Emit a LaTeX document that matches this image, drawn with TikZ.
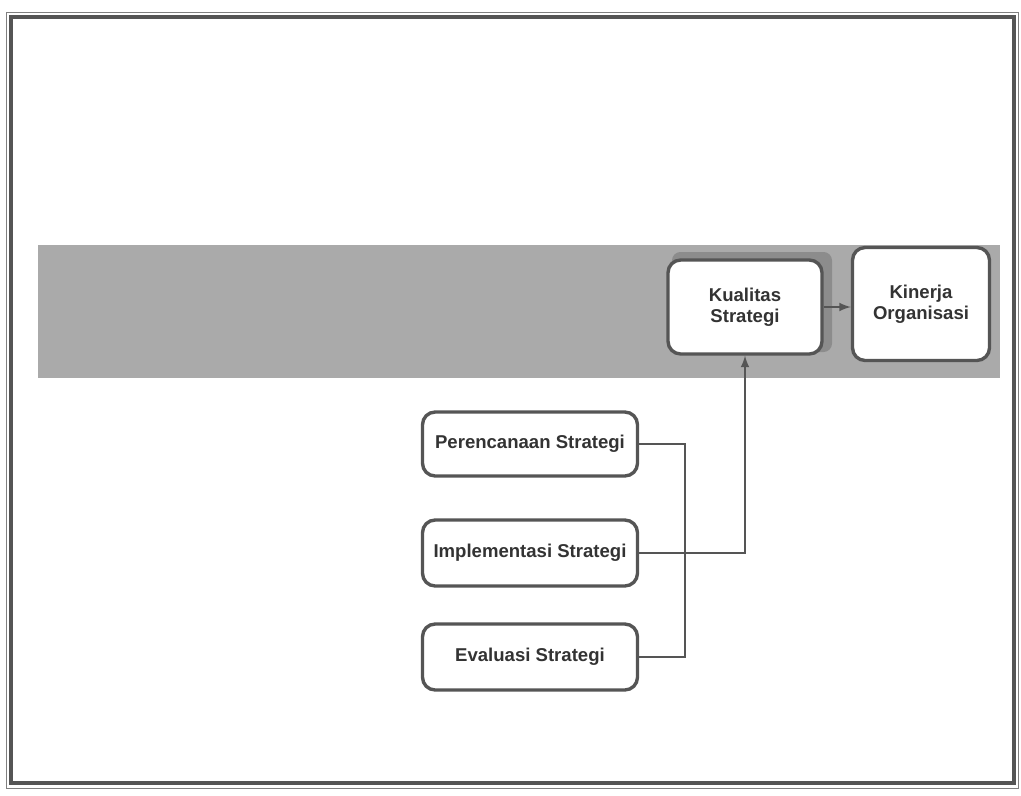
\documentclass[tikz,border=0pt]{standalone}
\usepackage{fontspec}
\setmainfont{Liberation Sans}
\usepackage{tikz}
\usetikzlibrary{calc}
\definecolor{bandgray}{RGB}{170,170,170}
\definecolor{shadowgray}{RGB}{140,140,140}
\definecolor{linegray}{RGB}{85,85,85}
\tikzset{
    kotak/.style={draw=linegray, line width=2.4pt, fill=white, rounded corners=9pt,
        align=center, font=\fontsize{13.2}{15}\selectfont\bfseries, text=black!80},
    garis/.style={draw=linegray, line width=1.8pt},
}
\begin{document}
\begin{tikzpicture}[x=0.025cm, y=-0.025cm]
    \useasboundingbox (0,0) rectangle (1021,796);
    % Bingkai
    \draw[gray, line width=0.6pt] (6,12) rectangle (1018,788);
    \draw[linegray, line width=3.5pt] (11,17) rectangle (1014,783);
    % Pita abu-abu
    \fill[bandgray] (38,245) rectangle (1000,378);
    \fill[shadowgray, rounded corners=6pt] (672,252) rectangle (832,352);
    % Kotak
    \node[kotak, minimum width=154*0.025cm, minimum height=94*0.025cm] (kualitas) at (745,307) {Kualitas\\Strategi};
    \node[kotak, minimum width=137*0.025cm, minimum height=113*0.025cm] (kinerja) at (921,304) {Kinerja\\Organisasi};
    \node[kotak, minimum width=215*0.025cm, minimum height=64*0.025cm] (perencanaan) at (530,444) {Perencanaan Strategi};
    \node[kotak, minimum width=215*0.025cm, minimum height=66*0.025cm] (implementasi) at (530,553) {Implementasi Strategi};
    \node[kotak, minimum width=215*0.025cm, minimum height=66*0.025cm] (evaluasi) at (530,657) {Evaluasi Strategi};
    % Penghubung
    \draw[garis, -latex] (kualitas.east) -- (kualitas.east -| kinerja.west);
    \draw[garis] (perencanaan.east) -- ++(46,0) |- (evaluasi.east);
    \draw[garis, -latex] (implementasi.east) -| (kualitas.south);
\end{tikzpicture}
\end{document}
